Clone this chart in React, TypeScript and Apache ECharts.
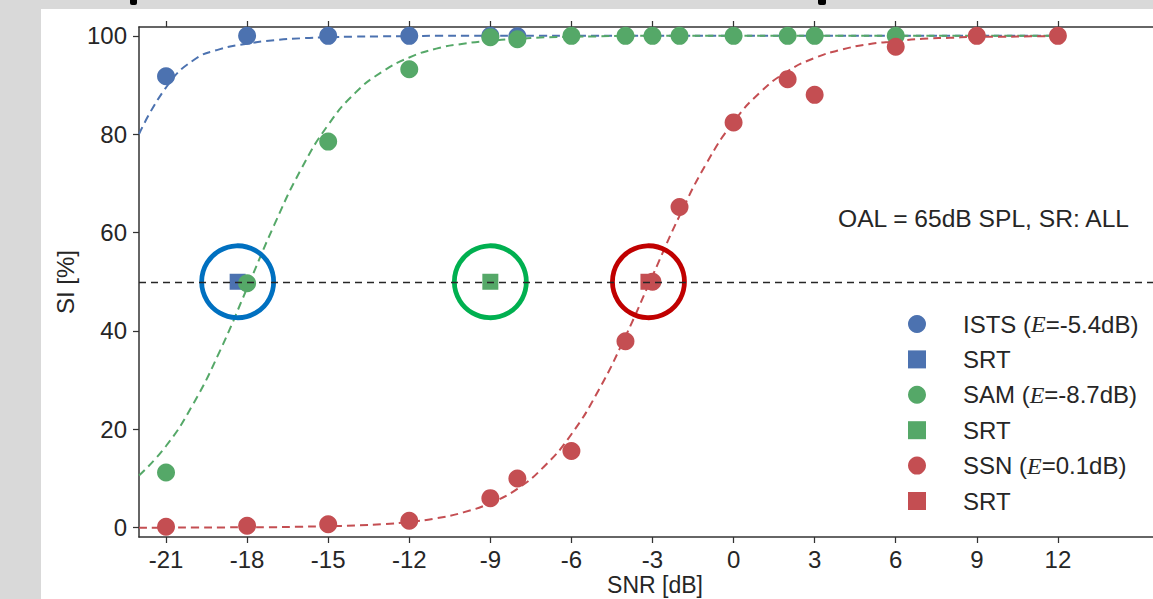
import { useEffect, useRef } from "react";
import * as echarts from "echarts";

// ---- data ----
const xTicks = [-21, -18, -15, -12, -9, -6, -3, 0, 3, 6, 9, 12];
const yTicks = [0, 20, 40, 60, 80, 100];

const conditionNames = ["ISTS", "SAM", "SSN"];
const conditionE = ["-5.4", "-8.7", "0.1"];
const srtNames = ["SRT_ISTS", "SRT_SAM", "SRT_SSN"];

const istsX = [-21, -18, -15, -12, -9, -8];
const istsY = [91.8, 100, 100, 100, 100, 99.9];

const samX = [-21, -18, -15, -12, -9, -8, -6, -4, -3, -2, 0, 2, 3, 6];
const samY = [11.2, 49.7, 78.5, 93.2, 99.7, 99.3, 100, 100, 100, 100, 100, 100, 100, 100];

const ssnX = [-21, -18, -15, -12, -9, -8, -6, -4, -3, -2, 0, 2, 3, 6, 9, 12];
const ssnY = [0.2, 0.4, 0.7, 1.4, 6.0, 10.0, 15.6, 37.9, 50.0, 65.2, 82.4, 91.2, 88.0, 97.8, 100, 100];

const srtX = [-18.35, -9.0, -3.15];
const srtY = [50, 50, 50];
const srtLevel = 50;

// fitted psychometric curves at 1 dB steps
const fitX = [-22, -21, -20, -19, -18, -17, -16, -15, -14, -13, -12, -11, -10, -9, -8, -7, -6, -5, -4, -3, -2, -1, 0, 1, 2, 3, 4, 5, 6, 7, 8, 9, 10, 11, 12];
const fitISTS = [80, 89.5, 95, 97.3, 98.4, 99.1, 99.5, 99.7, 99.85, 99.9, 99.95, 100, 100, 100, 100, 100, 100, 100, 100, 100, 100, 100, 100, 100, 100, 100, 100, 100, 100, 100, 100, 100, 100, 100, 100];
const fitSAM = [10.6, 16.6, 25.1, 36.0, 48.7, 61.5, 72.9, 81.9, 88.4, 92.7, 95.6, 97.4, 98.4, 99.0, 99.4, 99.7, 99.8, 99.9, 100, 100, 100, 100, 100, 100, 100, 100, 100, 100, 100, 100, 100, 100, 100, 100, 100];
const fitSSN = [0, 0, 0.05, 0.05, 0.1, 0.1, 0.2, 0.3, 0.45, 0.7, 1.15, 1.9, 3.1, 5.0, 7.9, 12.5, 19.0, 27.9, 38.9, 51.2, 63.4, 74.1, 82.5, 88.6, 92.8, 95.5, 97.2, 98.3, 98.9, 99.4, 99.6, 99.8, 99.8, 99.9, 99.9];

// ---- styles ----
const colors = ["#4c72b0", "#55a868", "#c44e52"];
const ringColors = ["#0070c0", "#00b050", "#c00000"];
const textColor = "#262626";
const axisColor = "#333333";
const font = "'Liberation Sans', Arial, sans-serif";

const pairs = (xs: number[], ys: number[]) => xs.map((x, i) => [x, ys[i]]);

function buildOption() {
  const pointSets = [pairs(istsX, istsY), pairs(samX, samY), pairs(ssnX, ssnY)];
  const fits = [fitISTS, fitSAM, fitSSN];
  const series: any[] = [];
  for (let i = 0; i < 3; i++) {
    series.push({
      type: "line",
      name: "fit_" + conditionNames[i],
      data: pairs(fitX, fits[i]),
      showSymbol: false,
      smooth: 0.5,
      silent: true,
      clip: true,
      lineStyle: { color: colors[i], width: 2, type: [8, 5] },
      z: 2,
    });
    series.push({
      type: "scatter",
      name: conditionNames[i],
      data: pointSets[i],
      symbol: "circle",
      symbolSize: 18,
      itemStyle: { color: colors[i], opacity: 1 },
      z: 2,
    });
    series.push({
      type: "scatter",
      name: srtNames[i],
      data: [[srtX[i], srtY[i]]],
      symbol: "rect",
      symbolSize: 16,
      itemStyle: { color: colors[i], opacity: 1 },
      z: 2,
    });
  }
  series.push({
    type: "scatter",
    name: "rings",
    silent: true,
    symbol: "circle",
    symbolSize: 72,
    data: srtX.map((x, i) => ({
      value: [x, srtY[i]],
      itemStyle: { color: "rgba(0,0,0,0)", borderColor: ringColors[i], borderWidth: 4.8, opacity: 1 },
    })),
    markLine: {
      silent: true,
      symbol: ["none", "none"],
      label: { show: false },
      lineStyle: { color: textColor, width: 1.3, type: [7, 5], opacity: 1 },
      data: [{ yAxis: srtLevel }],
    },
    z: 3,
  });

  const eByName: Record<string, string> = {};
  conditionNames.forEach((n, i) => (eByName[n] = conditionE[i]));

  const legendData: any[] = [];
  for (let i = 0; i < 3; i++) {
    legendData.push({ name: conditionNames[i], icon: "circle" });
    legendData.push({ name: srtNames[i], icon: "rect" });
  }

  const axisLineStyle = { color: axisColor, width: 1.5 };
  const tickStyle = { color: axisColor, width: 1.25 };

  return {
    animation: false,
    backgroundColor: "#d9d9d9",
    grid: { left: 139, top: 27, width: 1027, height: 510, containLabel: false, outerBoundsMode: "none" },
    legend: {
      orient: "vertical",
      left: 908,
      top: 312,
      padding: 0,
      itemWidth: 18,
      itemHeight: 18,
      itemGap: 11.4,
      selectedMode: false,
      data: legendData,
      formatter: (name: string) =>
        name.startsWith("SRT") ? "SRT" : `${name} ({e|E}=${eByName[name]}dB)`,
      textStyle: {
        fontSize: 24,
        color: textColor,
        fontFamily: font,
        padding: [0, 0, 0, 32],
        rich: {
          e: {
            fontSize: 24,
            color: textColor,
            fontFamily: "'Liberation Serif', 'DejaVu Serif', serif",
            fontStyle: "italic",
          },
        },
      },
    },
    xAxis: [
      {
        type: "value",
        min: -22,
        max: 16,
        position: "bottom",
        name: "SNR [dB]",
        nameLocation: "middle",
        nameGap: 36,
        nameMoveOverlap: false,
        nameTextStyle: { fontSize: 23, lineHeight: 24, color: textColor, fontFamily: font, padding: [0, 0, 0, 5] },
        axisLine: { show: true, onZero: false, lineStyle: axisLineStyle },
        axisTick: { show: true, customValues: xTicks, length: 6, lineStyle: tickStyle },
        axisLabel: { customValues: xTicks, fontSize: 24, color: textColor, fontFamily: font, margin: 10 },
        splitLine: { show: false },
      },
      {
        type: "value",
        min: -22,
        max: 16,
        position: "top",
        axisLine: { show: true, onZero: false, lineStyle: axisLineStyle },
        axisTick: { show: true, customValues: xTicks, length: 6, lineStyle: tickStyle },
        axisLabel: { show: false },
        splitLine: { show: false },
      },
    ],
    yAxis: {
      type: "value",
      min: -1.9,
      max: 101.8,
      name: "SI [%]",
      nameLocation: "middle",
      nameRotate: 90,
      nameGap: 62,
      nameMoveOverlap: false,
      nameTextStyle: { fontSize: 24, color: textColor, fontFamily: font },
      axisLine: { show: true, onZero: false, lineStyle: axisLineStyle },
      axisTick: { show: true, customValues: yTicks, length: 6, lineStyle: tickStyle },
      axisLabel: { customValues: yTicks, fontSize: 24, color: textColor, fontFamily: font, margin: 12 },
      splitLine: { show: false },
    },
    graphic: [
      { type: "rect", z: -10, silent: true, shape: { x: 41, y: 9, width: 1112, height: 590 }, style: { fill: "#ffffff" } },
      { type: "rect", z: -9, silent: true, shape: { x: 130, y: 0, width: 7, height: 5, r: [0, 0, 2, 2] }, style: { fill: "#000000" } },
      { type: "rect", z: -9, silent: true, shape: { x: 818, y: 0, width: 8, height: 5, r: [0, 0, 2, 2] }, style: { fill: "#000000" } },
      {
        type: "text",
        left: 838,
        top: 206,
        silent: true,
        style: { text: "OAL = 65dB SPL, SR: ALL", fontSize: 24.6, fill: textColor, fontFamily: font },
      },
    ],
    series,
  };
}

export default function App() {
  const ref = useRef<HTMLDivElement>(null);
  useEffect(() => {
    const chart = echarts.init(ref.current!, null, { renderer: "svg" });
    chart.setOption(buildOption() as any);
    return () => chart.dispose();
  }, []);
  return (
    <div
      ref={ref}
      style={{ position: "fixed", left: 0, top: 0, width: 1153, height: 599 }}
    />
  );
}
